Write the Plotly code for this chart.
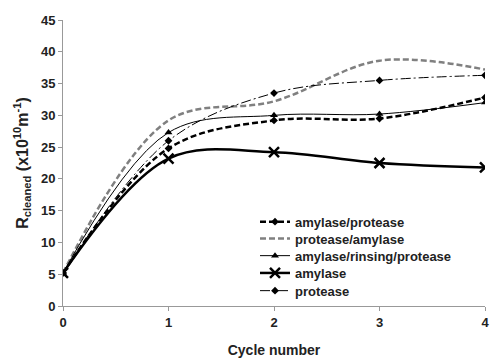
import plotly.graph_objects as go

cycles = [0, 1, 2, 3, 4]
amylase_protease = [5.2, 24.8, 29.2, 29.5, 32.8]
protease_amylase = [5.2, 29.2, 32.2, 38.6, 37.2]
amylase_rinsing_protease = [5.2, 27.3, 30.0, 30.2, 32.0]
amylase = [5.2, 23.2, 24.2, 22.5, 21.8]
protease = [5.2, 26.0, 33.5, 35.5, 36.3]

SM = 1.0
fig = go.Figure()
fig.add_trace(go.Scatter(x=cycles, y=amylase_protease, name="amylase/protease", legend="legend",
    mode="lines+markers", line=dict(color="black", width=2.5, dash="6px,3px", shape="spline", smoothing=SM),
    marker=dict(symbol="diamond", size=6, color="black")))
fig.add_trace(go.Scatter(x=cycles, y=protease_amylase, name="protease/amylase", legend="legend2",
    mode="lines", line=dict(color="#808080", width=2.5, dash="6px,3px", shape="spline", smoothing=SM)))
fig.add_trace(go.Scatter(x=cycles, y=amylase_rinsing_protease, name="amylase/rinsing/protease", legend="legend3",
    mode="lines+markers", line=dict(color="black", width=1, shape="spline", smoothing=SM),
    marker=dict(symbol="triangle-up", size=7, color="black")))
fig.add_trace(go.Scatter(x=cycles, y=amylase, name="amylase", legend="legend4",
    mode="lines+markers", line=dict(color="black", width=2.5, shape="spline", smoothing=SM),
    marker=dict(symbol="x-thin-open", size=10, color="black", line=dict(width=2.5, color="black"))))
fig.add_trace(go.Scatter(x=cycles, y=protease, name="protease", legend="legend5",
    mode="lines+markers", line=dict(color="black", width=1, dash="10px,3px,2px,3px", shape="spline", smoothing=SM),
    marker=dict(symbol="diamond", size=6, color="black")))

leg_font = dict(size=13, family="Liberation Sans, Arial", weight="bold", color="#222222")
def leg(y):
    return dict(x=0.455, y=y, xanchor="left", yanchor="middle", bgcolor="rgba(0,0,0,0)",
                font=leg_font, itemwidth=30)

fig.update_layout(
    width=492, height=358,
    margin=dict(l=63, r=3, t=20, b=52),
    plot_bgcolor="white", paper_bgcolor="white",
    font=dict(family="Liberation Sans, Arial", size=12, color="#222222"),
    legend=leg(0.2948), legend2=leg(0.236), legend3=leg(0.1759),
    legend4=leg(0.1154), legend5=leg(0.0535),
    showlegend=True,
)
fig.update_xaxes(range=[0, 4], tickvals=[0, 1, 2, 3, 4], showgrid=False, zeroline=False,
    showline=True, linecolor="#999999", linewidth=1, ticks="outside", ticklen=4, tickcolor="#999999",
    tickfont=dict(size=13, weight="bold"), ticklabeloverflow="allow",
    title=dict(text="Cycle number", font=dict(size=14, weight="bold"), standoff=16))
fig.update_yaxes(range=[0, 45], tickvals=list(range(0, 46, 5)), showgrid=False, zeroline=False,
    showline=True, linecolor="#999999", linewidth=1, ticks="outside", ticklen=4, tickcolor="#999999",
    tickfont=dict(size=13, weight="bold"),
    title=dict(text="R<sub>cleaned</sub> (x10<sup>10</sup>m<sup>-1</sup>)", font=dict(size=16, weight="bold"), standoff=8))

fig.write_html("out.html")
